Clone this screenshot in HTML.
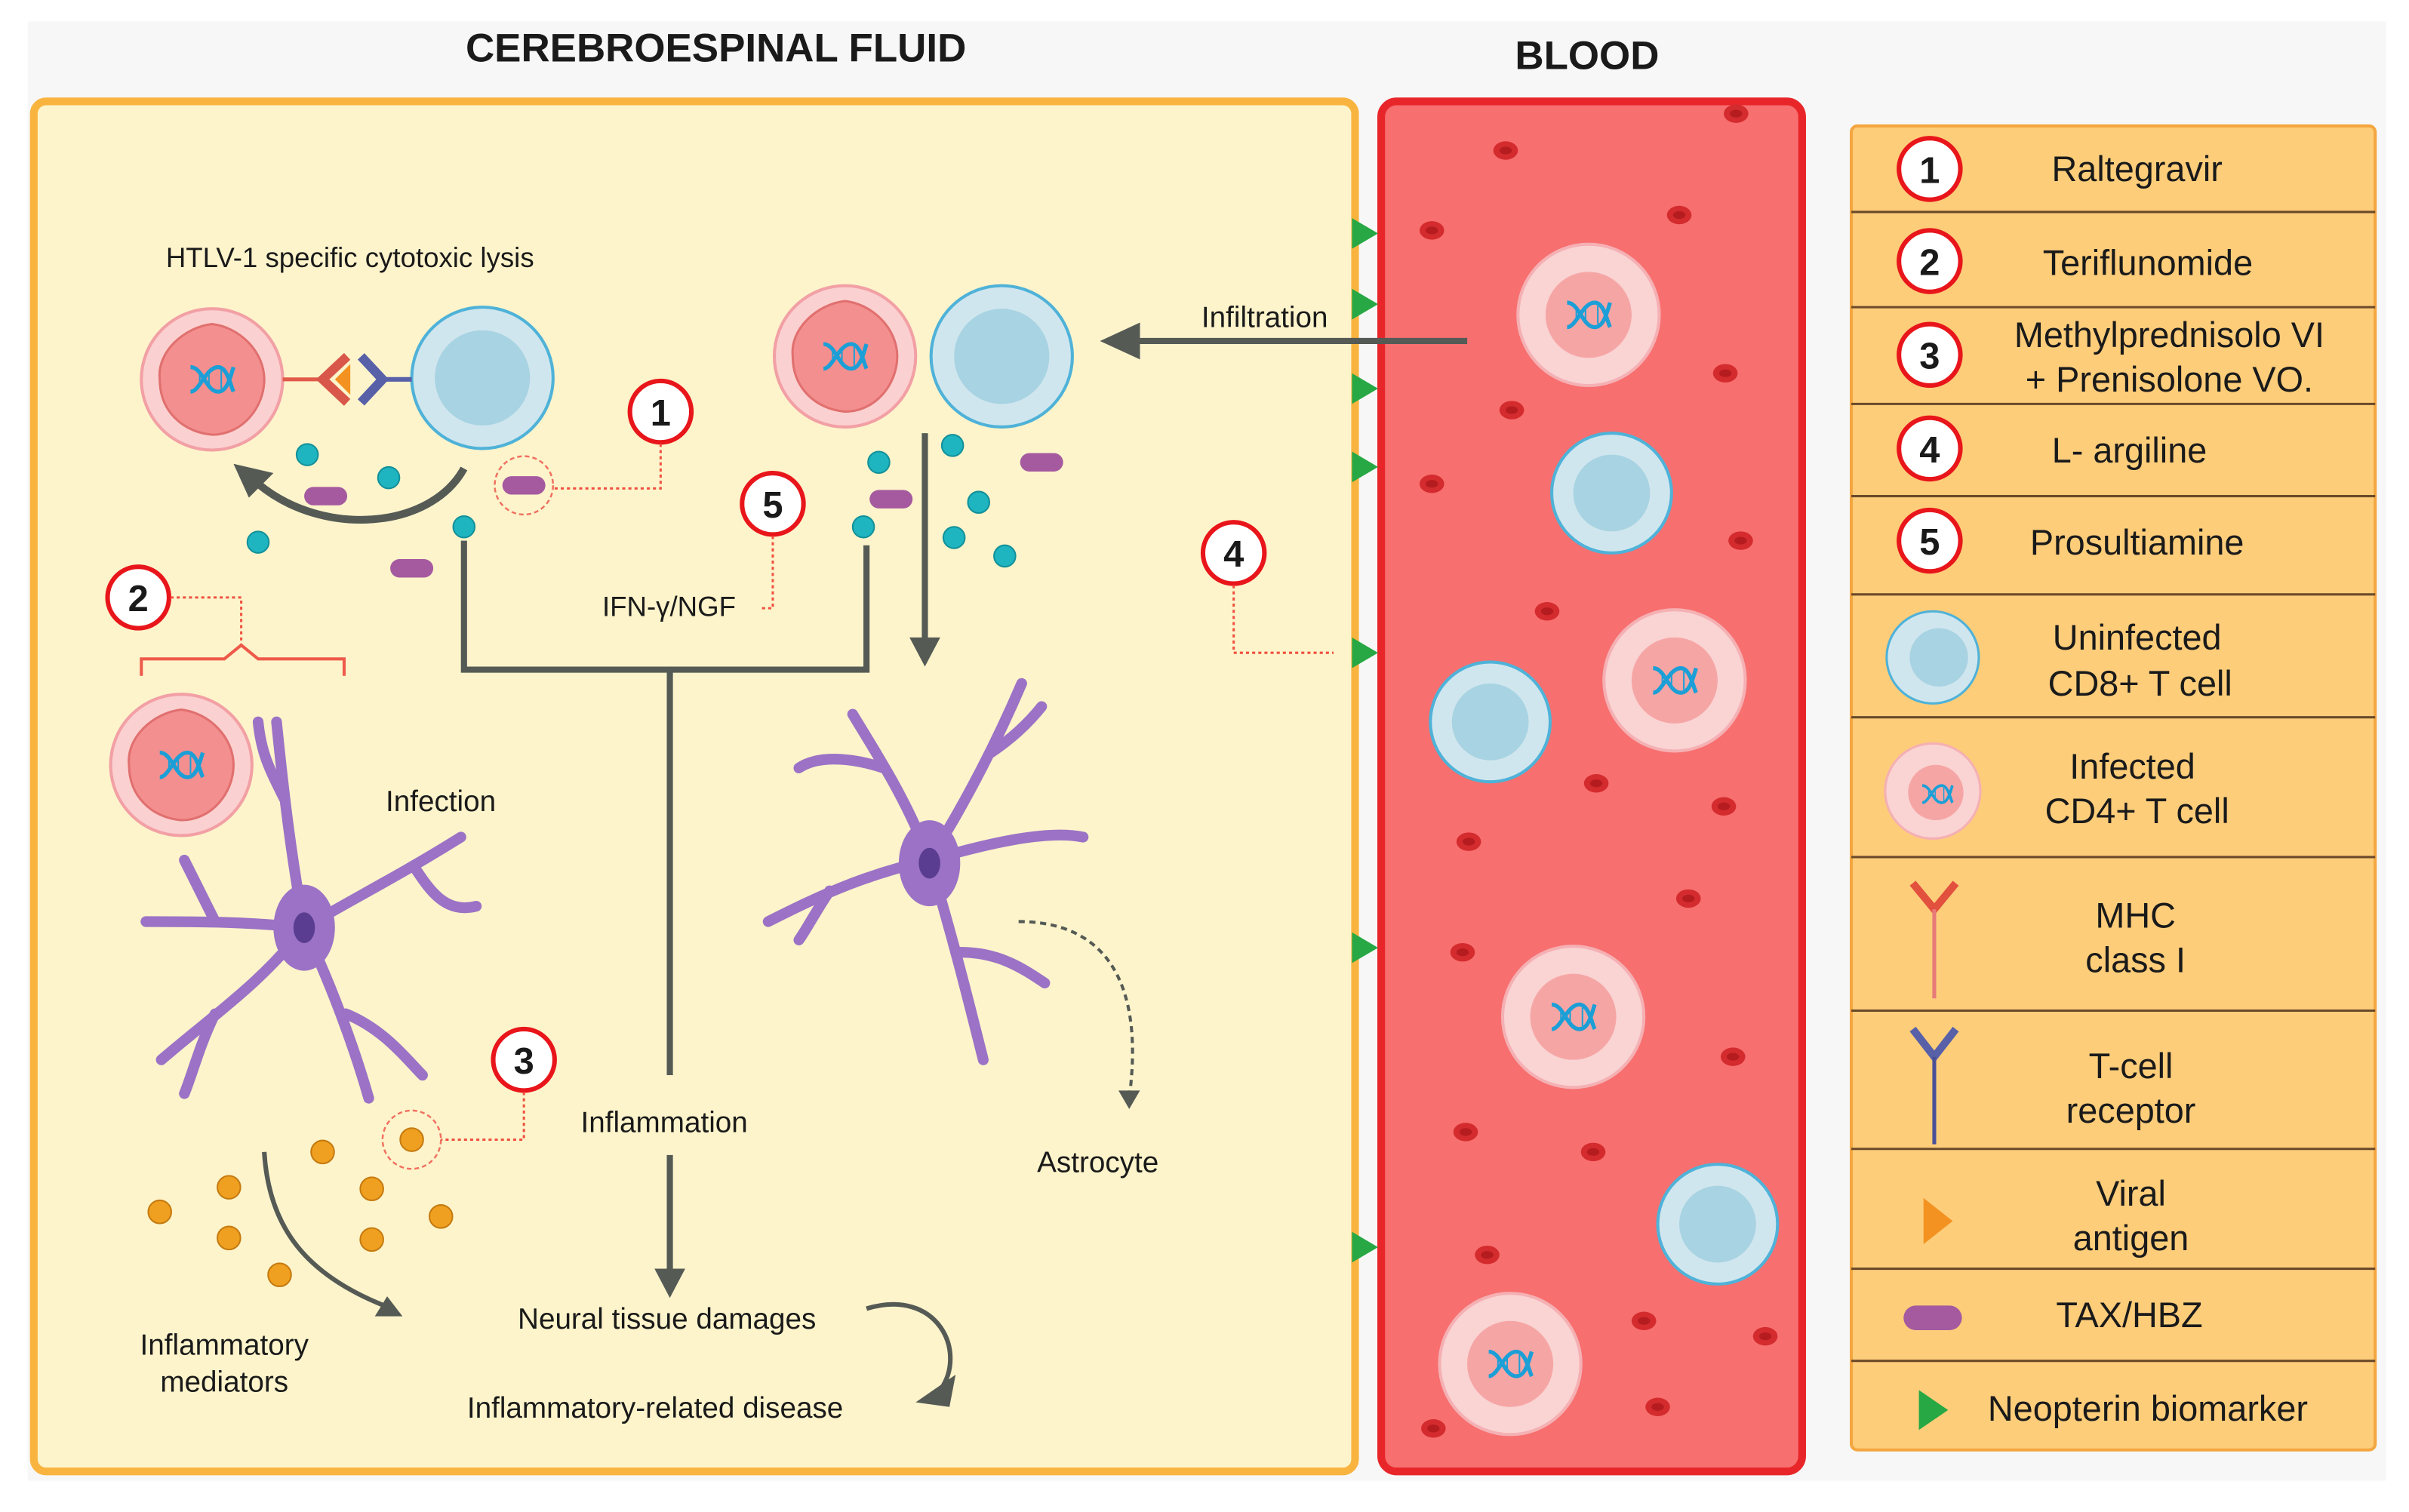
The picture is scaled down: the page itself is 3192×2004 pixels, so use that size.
<!DOCTYPE html>
<html><head><meta charset="utf-8"><style>
html,body{margin:0;padding:0;background:#fff;}
svg{display:block;}
text{font-family:"Liberation Sans",sans-serif;fill:#1a1a1a;}
</style></head><body>
<svg width="3192" height="2004" viewBox="0 0 1568 984.4" preserveAspectRatio="none" xmlns="http://www.w3.org/2000/svg">
<defs>
<g id="dna"><path d="M-14,-8 C-6,-8 -4,8 4,8 C10,8 12,-2 14,-8 M-14,8 C-8,8 -4,-8 4,-8 C10,-8 12,4 14,8" fill="none" stroke="#1c9fd6" stroke-width="2.6"/><path d="M-8,-4 v8 M-2,-6 v12 M6,-6 v12" stroke="#1c9fd6" stroke-width="1"/></g>
<g id="inf"><circle r="46" fill="#fbd0d0" stroke="#f2a0a5" stroke-width="2"/><path d="M0,-36 C18,-34 34,-18 34,0 C34,18 20,36 0,36 C-20,34 -34,20 -34,0 C-36,-18 -18,-34 0,-36Z" fill="#f48f8f" stroke="#e0706f" stroke-width="1.5"/><use href="#dna"/></g>
<g id="inf2"><circle r="46" fill="#fad3d3" stroke="#f5b0b3" stroke-width="2"/><circle r="28" fill="#f6a5a5"/><use href="#dna"/></g>
<g id="un"><circle r="46" fill="#d0e6ee" stroke="#4fb2d8" stroke-width="2"/><circle r="31" fill="#a8d3e2"/></g>
<g id="un2"><circle r="39" fill="#d0e6ee" stroke="#4fb2d8" stroke-width="2"/><circle r="25" fill="#a8d3e2"/></g>
<g id="num"><circle r="20" fill="#fff" stroke="#e8161b" stroke-width="3"/></g>
<g id="rbc"><ellipse rx="8" ry="6" fill="#d42b2e"/><ellipse rx="4" ry="2.5" fill="#b51c1f"/></g>
<marker id="ah" markerWidth="8" markerHeight="8" refX="4" refY="4" orient="auto" markerUnits="userSpaceOnUse"><path d="M0,0 L8,4 L0,8Z" fill="#555a55"/></marker>
</defs>
<rect width="1568" height="984.4" fill="#fff"/>
<rect x="18" y="14" width="1535" height="950" fill="#f7f7f7"/>
<text x="466" y="40" font-size="26" text-anchor="middle" font-weight="bold" fill="#111">CEREBROESPINAL FLUID</text>
<text x="1033" y="45" font-size="26" text-anchor="middle" font-weight="bold" fill="#111">BLOOD</text>
<!-- CSF -->
<rect x="22" y="66" width="860" height="892" rx="8" fill="#fdf4cb" stroke="#f9b440" stroke-width="5"/>
<!-- Blood -->
<rect x="899" y="66" width="274" height="892" rx="10" fill="#f76f6f" stroke="#e8262a" stroke-width="5"/>
<!-- rbcs -->
<g>
<use href="#rbc" x="1130" y="74"/><use href="#rbc" x="980" y="98"/><use href="#rbc" x="932" y="150"/><use href="#rbc" x="1093" y="140"/><use href="#rbc" x="1123" y="243"/><use href="#rbc" x="984" y="267"/><use href="#rbc" x="932" y="315"/><use href="#rbc" x="1133" y="352"/><use href="#rbc" x="1007" y="398"/><use href="#rbc" x="1039" y="510"/><use href="#rbc" x="1122" y="525"/><use href="#rbc" x="956" y="548"/><use href="#rbc" x="1099" y="585"/><use href="#rbc" x="952" y="620"/><use href="#rbc" x="1128" y="688"/><use href="#rbc" x="954" y="737"/><use href="#rbc" x="1037" y="750"/><use href="#rbc" x="968" y="817"/><use href="#rbc" x="1070" y="860"/><use href="#rbc" x="1149" y="870"/><use href="#rbc" x="1079" y="916"/><use href="#rbc" x="933" y="930"/>
</g>
<use href="#inf2" x="1034" y="205"/><use href="#un2" x="1049" y="321"/><use href="#un2" x="970" y="470"/><use href="#inf2" x="1090" y="443"/><use href="#inf2" x="1024" y="662"/><use href="#un2" x="1118" y="797"/><use href="#inf2" x="983" y="888"/>
<!-- green triangles -->
<g fill="#27a844">
<path d="M880,142 L897,152 L880,162Z"/><path d="M880,188 L897,198 L880,208Z"/><path d="M880,243 L897,253 L880,263Z"/><path d="M880,294 L897,304 L880,314Z"/><path d="M880,415 L897,425 L880,435Z"/><path d="M880,607 L897,617 L880,627Z"/><path d="M880,802 L897,812 L880,822Z"/>
</g>
<!-- infiltration -->
<line x1="955" y1="222" x2="740" y2="222" stroke="#555a55" stroke-width="4"/>
<path d="M716,222 L742,210 L742,234Z" fill="#555a55"/>
<text x="782" y="213" font-size="19">Infiltration</text>
<!-- left cells -->
<text x="108" y="174" font-size="18">HTLV-1 specific cytotoxic lysis</text>
<use href="#inf" x="138" y="247"/><use href="#un" x="314" y="246"/>
<line x1="184" y1="247" x2="210" y2="247" stroke="#e25a4a" stroke-width="2.5"/>
<path d="M226,232 L210,247 L226,262" fill="none" stroke="#d9574a" stroke-width="6"/>
<path d="M228,237 L218,247 L228,257Z" fill="#f39221"/>
<path d="M235,232 L249,247 L235,262" fill="none" stroke="#5860a8" stroke-width="6"/>
<line x1="249" y1="247" x2="268" y2="247" stroke="#5860a8" stroke-width="3"/>
<path d="M302,305 C280,345 210,350 168,315" fill="none" stroke="#555a55" stroke-width="5"/>
<path d="M152,302 L178,308 L162,324Z" fill="#555a55"/>
<use href="#inf" x="550" y="232"/><use href="#un" x="652" y="232"/>
<!-- teal dots -->
<g fill="#1fb5c0" stroke="#12909a" stroke-width="1">
<circle cx="200" cy="296" r="7"/><circle cx="253" cy="311" r="7"/><circle cx="168" cy="353" r="7"/><circle cx="302" cy="343" r="7"/><circle cx="572" cy="301" r="7"/><circle cx="620" cy="290" r="7"/><circle cx="637" cy="327" r="7"/><circle cx="621" cy="350" r="7"/><circle cx="654" cy="362" r="7"/><circle cx="562" cy="343" r="7"/>
</g>
<g fill="#a55aa0">
<rect x="198" y="317" width="28" height="12" rx="6"/><rect x="327" y="310" width="28" height="12" rx="6"/><rect x="254" y="364" width="28" height="12" rx="6"/><rect x="566" y="319" width="28" height="12" rx="6"/><rect x="664" y="295" width="28" height="12" rx="6"/>
</g>
<circle cx="341" cy="316" r="19" fill="none" stroke="#f07060" stroke-width="1.2" stroke-dasharray="3,2"/>
<!-- bracket lines -->
<path d="M302,352 V436 H564 V355" fill="none" stroke="#555a55" stroke-width="4"/>
<line x1="436" y1="436" x2="436" y2="700" stroke="#555a55" stroke-width="4"/>
<line x1="436" y1="752" x2="436" y2="828" stroke="#555a55" stroke-width="4"/>
<path d="M426,826 L446,826 L436,845Z" fill="#555a55"/>
<line x1="602" y1="282" x2="602" y2="418" stroke="#555a55" stroke-width="4"/>
<path d="M592,415 L612,415 L602,434Z" fill="#555a55"/>
<text x="392" y="401" font-size="18">IFN-γ/NGF</text>
<!-- numbers -->
<g font-size="24" font-weight="bold" text-anchor="middle">
<use href="#num" x="430" y="268"/><text x="430" y="277" fill="#e8161b">1</text>
<use href="#num" x="503" y="328"/><text x="503" y="337" fill="#e8161b">5</text>
<use href="#num" x="90" y="389"/><text x="90" y="398" fill="#e8161b">2</text>
<use href="#num" x="341" y="690"/><text x="341" y="699" fill="#e8161b">3</text>
<use href="#num" x="803" y="360"/><text x="803" y="369" fill="#e8161b">4</text>
</g>
<g fill="none" stroke="#f05040" stroke-width="1.5" stroke-dasharray="2,2">
<path d="M430,289 V318 H361"/>
<path d="M503,349 V396 H494"/>
<path d="M111,389 H157 V420"/>
<path d="M341,711 V742 H287"/>
<path d="M803,381 V425 H868"/>
</g>
<path d="M92,440 V429 H146 L157,420 L168,429 H224 V440" fill="none" stroke="#ee5a4a" stroke-width="2"/>
<circle cx="268" cy="742" r="19" fill="none" stroke="#f07060" stroke-width="1.2" stroke-dasharray="3,2"/>
<!-- astrocyte 1 -->
<g stroke="#9b72c6" fill="none" stroke-linecap="round">
<path d="M198,604 C190,560 185,520 180,470 M185,520 C175,500 170,490 168,470 M198,604 C230,585 260,570 300,545 M270,565 C280,580 290,595 310,590 M198,604 C160,600 130,600 95,600 M140,600 C130,580 125,570 120,560 M198,604 C170,640 140,660 105,690 M140,660 C130,680 125,700 120,712 M198,604 C215,640 230,680 240,715 M225,660 C250,670 265,690 275,700" stroke-width="7"/>
</g>
<ellipse cx="198" cy="604" rx="20" ry="28" fill="#9b72c6"/>
<ellipse cx="198" cy="604" rx="7" ry="10" fill="#5a3d90"/>
<use href="#inf" x="118" y="498"/>
<text x="251" y="528" font-size="19">Infection</text>
<!-- astrocyte 2 -->
<g stroke="#9b72c6" fill="none" stroke-linecap="round">
<path d="M605,560 C590,520 570,490 555,465 M575,500 C560,495 535,490 520,500 M605,560 C630,520 650,480 665,445 M645,490 C660,480 670,470 678,460 M605,560 C640,550 680,540 705,545 M605,560 C560,570 530,585 500,600 M540,580 C530,595 525,605 520,612 M605,560 C620,610 630,650 640,690 M625,620 C650,620 665,630 680,640" stroke-width="7"/>
</g>
<ellipse cx="605" cy="562" rx="20" ry="28" fill="#9b72c6"/>
<ellipse cx="605" cy="562" rx="7" ry="10" fill="#5a3d90"/>
<path d="M663,600 C720,600 745,640 735,715" fill="none" stroke="#555a55" stroke-width="2" stroke-dasharray="4,3"/>
<path d="M728,710 L742,710 L735,722Z" fill="#555a55"/>
<text x="675" y="763" font-size="19">Astrocyte</text>
<text x="378" y="737" font-size="19">Inflammation</text>
<!-- orange dots -->
<g fill="#f0a020" stroke="#c57a10" stroke-width="1">
<circle cx="210" cy="750" r="7.5"/><circle cx="268" cy="742" r="7.5"/><circle cx="149" cy="773" r="7.5"/><circle cx="242" cy="774" r="7.5"/><circle cx="104" cy="789" r="7.5"/><circle cx="149" cy="806" r="7.5"/><circle cx="242" cy="807" r="7.5"/><circle cx="287" cy="792" r="7.5"/><circle cx="182" cy="830" r="7.5"/>
</g>
<path d="M172,750 C175,800 200,830 250,850" fill="none" stroke="#555a55" stroke-width="3"/>
<path d="M262,857 L244,857 L252,844Z" fill="#555a55"/>
<text x="146" y="882" font-size="19" text-anchor="middle">Inflammatory</text>
<text x="146" y="906" font-size="19" text-anchor="middle">mediators</text>
<text x="337" y="865" font-size="19">Neural tissue damages</text>
<text x="304" y="923" font-size="19">Inflammatory-related disease</text>
<path d="M564,852 C610,838 630,880 612,905" fill="none" stroke="#555a55" stroke-width="3"/>
<path d="M596,913 L622,895 L618,916Z" fill="#555a55"/>
<!-- legend -->
<rect x="1205" y="82" width="341" height="862" rx="4" fill="#fdcd7a" stroke="#f4a640" stroke-width="2"/>
<g stroke="#6b4a2a" stroke-width="1.5">
<line x1="1205" y1="138" x2="1546" y2="138"/><line x1="1205" y1="200" x2="1546" y2="200"/><line x1="1205" y1="263" x2="1546" y2="263"/><line x1="1205" y1="323" x2="1546" y2="323"/><line x1="1205" y1="387" x2="1546" y2="387"/><line x1="1205" y1="467" x2="1546" y2="467"/><line x1="1205" y1="558" x2="1546" y2="558"/><line x1="1205" y1="658" x2="1546" y2="658"/><line x1="1205" y1="748" x2="1546" y2="748"/><line x1="1205" y1="826" x2="1546" y2="826"/><line x1="1205" y1="886" x2="1546" y2="886"/>
</g>
<g font-size="24" font-weight="bold" text-anchor="middle">
<use href="#num" x="1256" y="110"/><text x="1256" y="119" fill="#e8161b">1</text>
<use href="#num" x="1256" y="170"/><text x="1256" y="179" fill="#e8161b">2</text>
<use href="#num" x="1256" y="231"/><text x="1256" y="240" fill="#e8161b">3</text>
<use href="#num" x="1256" y="292"/><text x="1256" y="301" fill="#e8161b">4</text>
<use href="#num" x="1256" y="352"/><text x="1256" y="361" fill="#e8161b">5</text>
</g>
<g font-size="23" text-anchor="middle">
<text x="1391" y="118">Raltegravir</text>
<text x="1398" y="179">Teriflunomide</text>
<text x="1412" y="226">Methylprednisolo VI</text>
<text x="1412" y="255">+ Prenisolone VO.</text>
<text x="1386" y="301">L- argiline</text>
<text x="1391" y="361">Prosultiamine</text>
<text x="1391" y="423">Uninfected</text>
<text x="1393" y="453">CD8+ T cell</text>
<text x="1388" y="507">Infected</text>
<text x="1391" y="536">CD4+ T cell</text>
<text x="1390" y="604">MHC</text>
<text x="1390" y="633">class I</text>
<text x="1387" y="702">T-cell</text>
<text x="1387" y="731">receptor</text>
<text x="1387" y="785">Viral</text>
<text x="1387" y="814">antigen</text>
<text x="1386" y="864">TAX/HBZ</text>
<text x="1398" y="925">Neopterin biomarker</text>
</g>
<circle cx="1258" cy="428" r="30" fill="#d0e6ee" stroke="#4fb2d8" stroke-width="1.5"/><circle cx="1262" cy="428" r="19" fill="#a8d3e2"/>
<circle cx="1258" cy="515" r="31" fill="#fad3d3" stroke="#f5b0b3" stroke-width="1.5"/><circle cx="1260" cy="516" r="18" fill="#f6a5a5"/><use href="#dna" transform="translate(1261,517) scale(0.7)"/>
<path d="M1245,575 L1259,592 L1273,575" fill="none" stroke="#e2503e" stroke-width="5"/><line x1="1259" y1="592" x2="1259" y2="650" stroke="#e87a7a" stroke-width="2.5"/>
<path d="M1245,670 L1259,688 L1273,670" fill="none" stroke="#5860a8" stroke-width="5"/><line x1="1259" y1="688" x2="1259" y2="745" stroke="#4a5098" stroke-width="2.5"/>
<path d="M1252,780 L1271,795 L1252,810Z" fill="#f39221"/>
<rect x="1239" y="850" width="38" height="16" rx="8" fill="#a55aa0"/>
<path d="M1249,905 L1268,918 L1249,931Z" fill="#27a844"/>
</svg>
</body></html>
